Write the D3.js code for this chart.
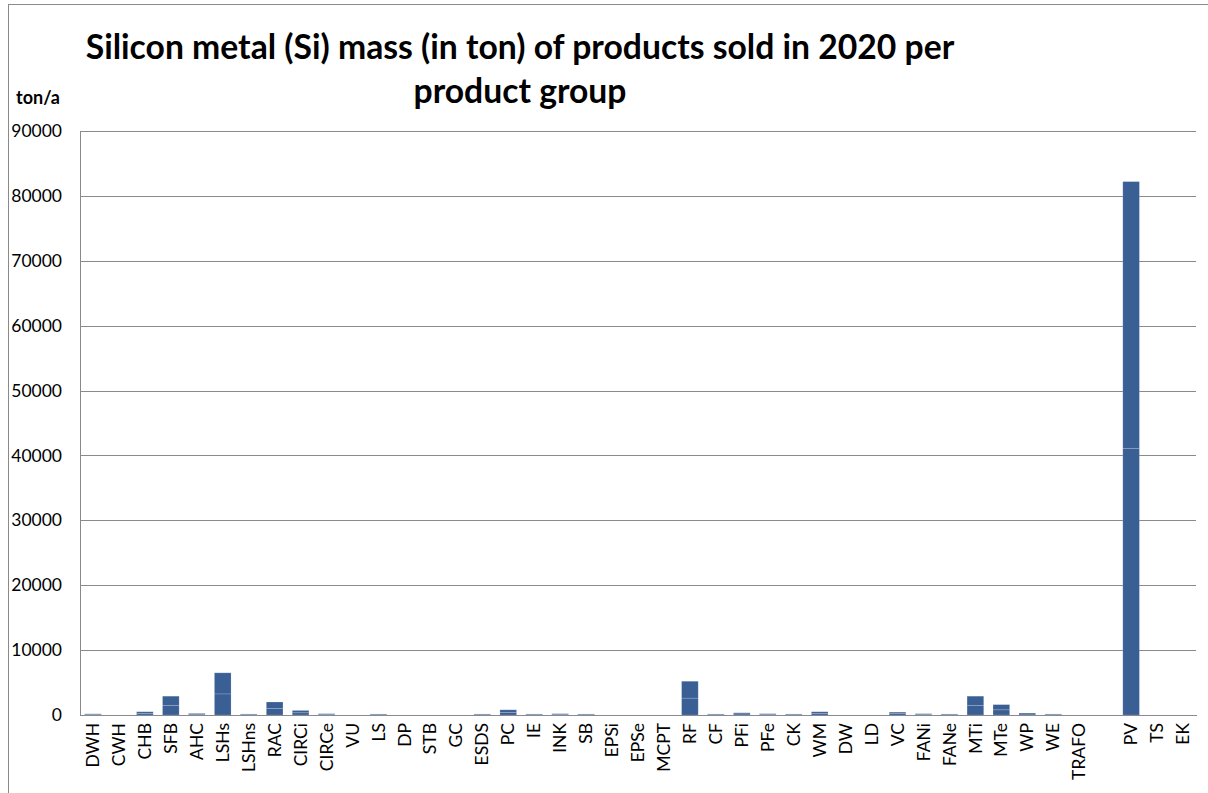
<!DOCTYPE html>
<html>
<head>
<meta charset="utf-8">
<script src="https://cdnjs.cloudflare.com/ajax/libs/d3/7.8.5/d3.min.js"></script>
<style>
  body { margin: 0; background: #fff; }
  text { font-family: Lato, "Open Sans", sans-serif; }
</style>
</head>
<body>
<div id="chart"></div>
<script>

// product groups (one empty slot between TRAFO and PV, as in the original)
var groups = ["DWH", "CWH", "CHB", "SFB", "AHC", "LSHs", "LSHns", "RAC", "CIRCi", "CIRCe",
  "VU", "LS", "DP", "STB", "GC", "ESDS", "PC", "IE", "INK", "SB",
  "EPSi", "EPSe", "MCPT", "RF", "CF", "PFi", "PFe", "CK", "WM", "DW",
  "LD", "VC", "FANi", "FANe", "MTi", "MTe", "WP", "WE", "TRAFO", "",
  "PV", "TS", "EK"];

// the bars are drawn as two stacked pieces (lower / upper part)
var lowerPart = [90, 0, 250, 1450, 120, 3250, 80, 1000, 350, 100,
  0, 80, 0, 0, 0, 80, 400, 80, 100, 80,
  0, 0, 0, 2600, 80, 170, 100, 80, 250, 0,
  0, 220, 100, 80, 1450, 800, 150, 80, 0, 0,
  41100, 0, 0];
var upperPart = [90, 0, 250, 1450, 120, 3250, 80, 1000, 350, 100,
  0, 80, 0, 0, 0, 80, 400, 80, 100, 80,
  0, 0, 0, 2600, 80, 170, 100, 80, 250, 0,
  0, 220, 100, 80, 1450, 800, 150, 80, 0, 0,
  41100, 0, 0];

var yTicks = [0, 10000, 20000, 30000, 40000, 50000, 60000, 70000, 80000, 90000];

var titleLines = ["Silicon metal (Si) mass (in ton) of products sold in 2020 per", "product group"];
var unitLabel = "ton/a";

var width = 1208;
var height = 793;
var margin = {top: 131, right: 12, bottom: 78, left: 80};

var svg = d3.select("#chart")
  .append("svg")
    .attr("width", width)
    .attr("height", height);

// outer frame
svg.append("rect")
  .attr("x", 8.5)
  .attr("y", 4.5)
  .attr("width", 1210)
  .attr("height", 800)
  .attr("fill", "none")
  .attr("stroke", "#8a8a8a")
  .attr("stroke-width", 1);

var plotW = width - margin.left - margin.right;
var plotH = height - margin.top - margin.bottom;

var g = svg.append("g").attr("transform", "translate(" + margin.left + "," + margin.top + ")");

var x = d3.scaleBand()
  .domain(groups)
  .range([0, plotW])
  .paddingInner(0.36)
  .paddingOuter(0.18);

var y = d3.scaleLinear()
  .domain([0, 90000])
  .range([plotH, 0]);

// gridlines
g.append("g")
  .attr("class", "grid")
  .call(d3.axisLeft(y).tickValues(yTicks).tickSize(-plotW).tickFormat(""))
  .call(function(s) {
    s.select(".domain").remove();
    s.selectAll("line").attr("stroke", "#8a8a8a").attr("shape-rendering", "crispEdges");
  });

// y axis labels
g.append("g")
  .call(d3.axisLeft(y).tickValues(yTicks).tickSize(0).tickPadding(18).tickFormat(d3.format("d")))
  .call(function(s) {
    s.select(".domain").attr("stroke", "#8a8a8a").attr("shape-rendering", "crispEdges");
    s.selectAll("text").attr("fill", "#000").style("font-size", "17.5px").style("font-family", "Lato");
  });

// bars
var data = groups.map(function(d, i) { return {key: d, a: lowerPart[i], b: upperPart[i]}; });

var bars = g.append("g").selectAll("g").data(data).enter().append("g");

bars.append("rect")
  .attr("x", function(d) { return x(d.key); })
  .attr("width", x.bandwidth())
  .attr("y", function(d) { return y(d.a); })
  .attr("height", function(d) { return plotH - y(d.a); })
  .attr("fill", "#3a5f94")
  .attr("stroke", function(d) { return d.a > 0 ? "rgba(255,255,255,0.2)" : "none"; })
  .attr("stroke-width", 0.8);

bars.append("rect")
  .attr("x", function(d) { return x(d.key); })
  .attr("width", x.bandwidth())
  .attr("y", function(d) { return y(d.a + d.b); })
  .attr("height", function(d) { return y(d.a) - y(d.a + d.b); })
  .attr("fill", "#3a5f94")
  .attr("stroke", function(d) { return d.b > 0 ? "rgba(255,255,255,0.2)" : "none"; })
  .attr("stroke-width", 0.8);

// x axis
g.append("g")
  .attr("transform", "translate(0," + plotH + ")")
  .call(d3.axisBottom(x).tickSize(0).tickPadding(0))
  .call(function(s) {
    s.select(".domain").attr("stroke", "#8a8a8a").attr("shape-rendering", "crispEdges");
    s.selectAll("text")
      .attr("fill", "#000")
      .style("font-size", "17.5px")
      .style("font-family", "Lato")
      .attr("transform", "rotate(-90)")
      .attr("text-anchor", "end")
      .attr("x", -8)
      .attr("y", 0)
      .attr("dy", "0.35em");
  });

// title
svg.selectAll(".title")
  .data(titleLines)
  .enter().append("text")
    .attr("class", "title")
    .attr("x", 520)
    .attr("y", function(d, i) { return 59 + i * 44; })
    .attr("text-anchor", "middle")
    .style("font-size", "33.7px")
    .style("font-weight", "bold")
    .text(function(d) { return d; });

// unit label
svg.append("text")
  .attr("x", 38)
  .attr("y", 104)
  .attr("text-anchor", "middle")
  .style("font-size", "18px")
  .style("font-weight", "bold")
  .text(unitLabel);

</script>
</body>
</html>
